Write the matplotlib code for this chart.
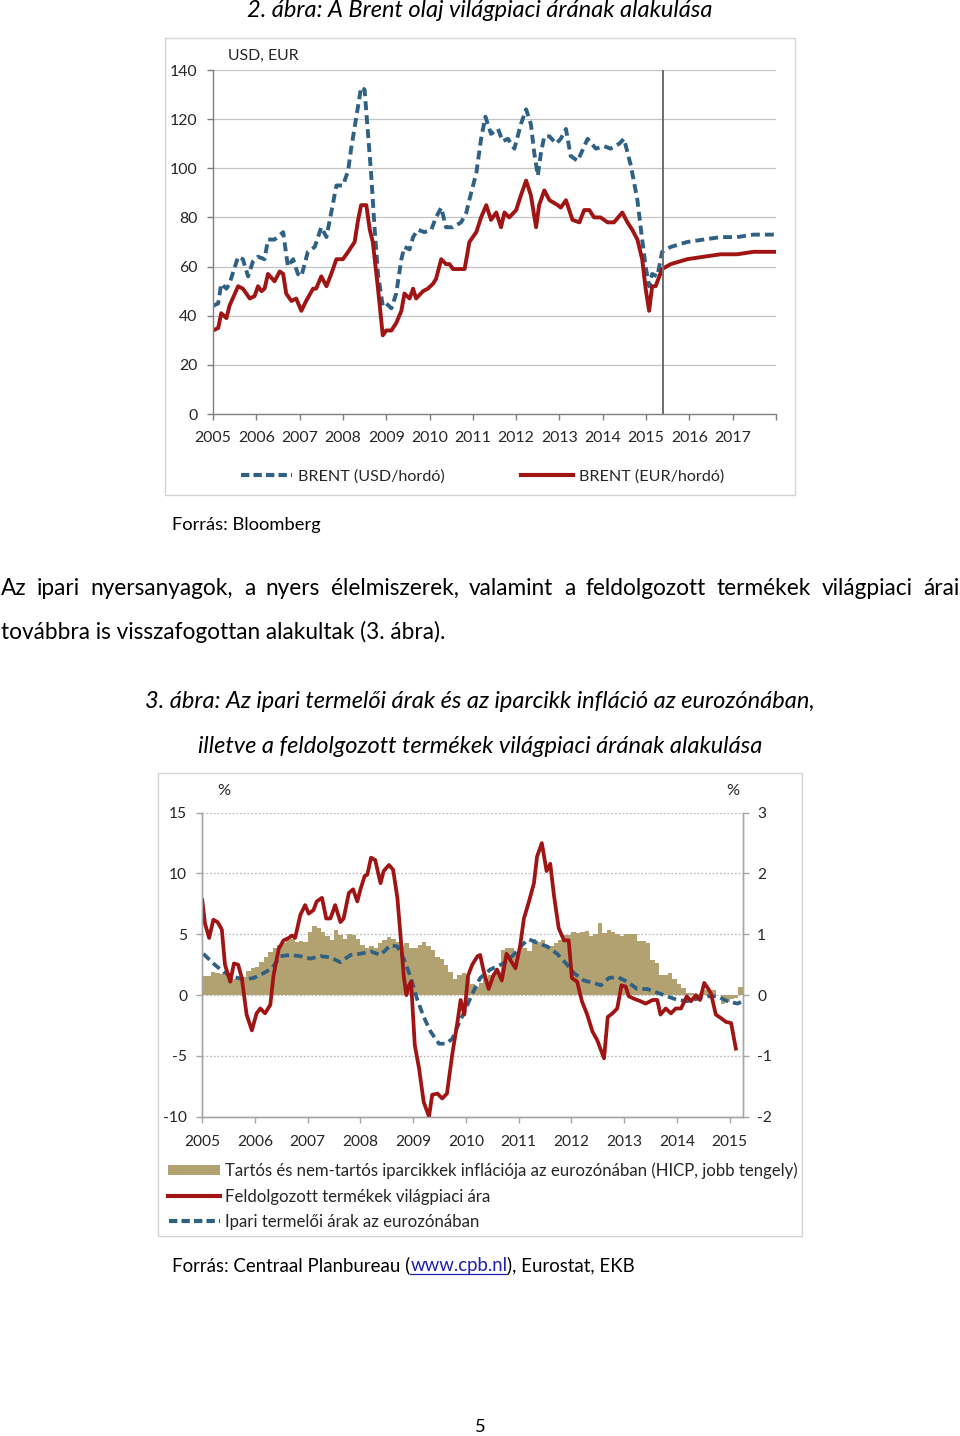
import matplotlib
matplotlib.use("Agg")
import matplotlib.pyplot as plt
import numpy as np
from matplotlib.lines import Line2D
from matplotlib.patches import Rectangle

# ---------------------------------------------------------------------------
# Data
# ---------------------------------------------------------------------------

# 2. ábra: Brent, USD/hordó (decimal year, value)
usd_year = [2005.00, 2005.12, 2005.19, 2005.31, 2005.38, 2005.58, 2005.69, 2005.81,
            2005.92, 2006.04, 2006.19, 2006.27, 2006.42, 2006.62, 2006.73, 2006.85,
            2006.96, 2007.04, 2007.19, 2007.35, 2007.50, 2007.62, 2007.73, 2007.85,
            2008.00, 2008.12, 2008.19, 2008.31, 2008.42, 2008.50, 2008.58, 2008.65,
            2008.73, 2008.81, 2008.92, 2009.00, 2009.12, 2009.23, 2009.35, 2009.42,
            2009.54, 2009.62, 2009.73, 2009.88, 2010.04, 2010.15, 2010.27, 2010.38,
            2010.54, 2010.73, 2010.85, 2010.96, 2011.08, 2011.19, 2011.29, 2011.42,
            2011.58, 2011.69, 2011.81, 2011.96, 2012.11, 2012.23, 2012.34, 2012.42,
            2012.50, 2012.57, 2012.65, 2012.77, 2012.92, 2013.03, 2013.15, 2013.26,
            2013.42, 2013.65, 2013.84, 2014.03, 2014.18, 2014.38, 2014.49, 2014.65,
            2014.80, 2014.91, 2014.99, 2015.07, 2015.14, 2015.26, 2015.37, 2015.57,
            2015.95, 2016.33, 2016.72, 2017.10, 2017.48, 2018.00]
usd_price = [44, 45, 53, 51, 53, 64, 63, 56,
             62, 64, 63, 71, 71, 74, 60, 63,
             57, 56, 66, 68, 76, 72, 82, 93,
             93, 99, 108, 121, 133, 132, 114, 98,
             76, 57, 44, 45, 43, 49, 63, 68,
             67, 72, 75, 74, 75, 80, 84, 76,
             76, 78, 82, 90, 98, 112, 121, 114,
             116, 111, 112, 108, 118, 124, 118, 106,
             97, 106, 113, 113, 110, 112, 116, 105,
             103, 112, 108, 109, 108, 110, 112, 101,
             87, 71, 60, 52, 57, 56, 66, 68,
             70, 71, 72, 72, 73, 73]

# 2. ábra: Brent, EUR/hordó
eur_year = [2005.00, 2005.12, 2005.19, 2005.31, 2005.38, 2005.58, 2005.69, 2005.85,
            2005.96, 2006.04, 2006.12, 2006.19, 2006.27, 2006.42, 2006.54, 2006.62,
            2006.69, 2006.81, 2006.92, 2007.04, 2007.15, 2007.31, 2007.38, 2007.50,
            2007.62, 2007.73, 2007.85, 2008.00, 2008.12, 2008.27, 2008.35, 2008.42,
            2008.54, 2008.62, 2008.69, 2008.81, 2008.92, 2009.00, 2009.12, 2009.23,
            2009.35, 2009.42, 2009.54, 2009.62, 2009.69, 2009.85, 2009.96, 2010.08,
            2010.15, 2010.27, 2010.38, 2010.46, 2010.54, 2010.65, 2010.81, 2010.92,
            2011.08, 2011.19, 2011.31, 2011.42, 2011.54, 2011.65, 2011.73, 2011.84,
            2012.00, 2012.11, 2012.23, 2012.34, 2012.46, 2012.53, 2012.65, 2012.77,
            2012.96, 2013.03, 2013.15, 2013.30, 2013.46, 2013.57, 2013.69, 2013.80,
            2013.95, 2014.11, 2014.26, 2014.45, 2014.57, 2014.68, 2014.80, 2014.91,
            2014.99, 2015.07, 2015.14, 2015.22, 2015.37, 2015.57, 2015.95, 2016.33,
            2016.72, 2017.10, 2017.48, 2018.00]
eur_price = [34, 35, 41, 39, 44, 52, 51, 47,
             48, 52, 50, 51, 57, 54, 58, 57,
             49, 46, 47, 42, 46, 51, 51, 56,
             52, 57, 63, 63, 66, 70, 79, 85,
             85, 75, 70, 51, 32, 34, 34, 37,
             42, 49, 47, 51, 47, 50, 51, 53,
             55, 63, 61, 61, 59, 59, 59, 70,
             74, 80, 85, 79, 82, 76, 82, 80,
             83, 89, 95, 89, 76, 85, 91, 87,
             85, 84, 87, 79, 78, 83, 83, 80,
             80, 78, 78, 82, 78, 75, 71, 63,
             51, 42, 52, 52, 59, 61, 63, 64,
             65, 65, 66, 66]

forecast_start = 2015.39
brent_years = list(range(2005, 2018))

# 3. ábra: HICP iparcikk infláció, havi, 2005 jan - 2015 márc (jobb tengely, %)
hicp = [0.31, 0.31, 0.38, 0.36, 0.34, 0.33, 0.30, 0.27, 0.27, 0.30, 0.40, 0.44,
        0.47, 0.55, 0.62, 0.71, 0.77, 0.82, 0.86, 0.91, 0.93, 0.88, 0.89, 0.88,
        1.04, 1.13, 1.10, 1.04, 0.98, 0.91, 1.07, 0.99, 0.93, 1.00, 0.99, 0.93,
        0.82, 0.77, 0.81, 0.77, 0.85, 0.91, 0.95, 0.93, 0.88, 0.80, 0.85, 0.78,
        0.78, 0.82, 0.88, 0.81, 0.74, 0.63, 0.60, 0.50, 0.38, 0.27, 0.33, 0.36,
        0.30, 0.19, 0.14, 0.20, 0.28, 0.33, 0.36, 0.38, 0.74, 0.77, 0.77, 0.69,
        0.80, 0.77, 0.73, 0.93, 0.88, 0.91, 0.82, 0.80, 0.85, 0.91, 0.99, 0.99,
        1.04, 1.02, 1.04, 1.06, 0.98, 1.00, 1.18, 1.02, 1.07, 1.04, 1.00, 0.98,
        1.00, 1.00, 1.00, 0.89, 0.89, 0.85, 0.58, 0.52, 0.33, 0.33, 0.36, 0.27,
        0.19, 0.11, 0.04, 0.03, 0.01, 0.04, 0.08, 0.08, 0.08, 0.00, -0.15, -0.11,
        -0.07, -0.05, 0.14]
hicp_start = 2005

# 3. ábra: feldolgozott termékek világpiaci ára (bal tengely, %)
proc_year = [2005.00, 2005.05, 2005.13, 2005.21, 2005.29, 2005.37, 2005.43, 2005.53,
             2005.60, 2005.68, 2005.75, 2005.84, 2005.94, 2006.03, 2006.10, 2006.19,
             2006.29, 2006.35, 2006.45, 2006.54, 2006.64, 2006.70, 2006.76, 2006.86,
             2006.95, 2007.02, 2007.11, 2007.17, 2007.27, 2007.35, 2007.43, 2007.52,
             2007.62, 2007.68, 2007.78, 2007.86, 2007.94, 2008.00, 2008.08, 2008.13,
             2008.20, 2008.28, 2008.38, 2008.44, 2008.54, 2008.62, 2008.70, 2008.76,
             2008.82, 2008.87, 2008.92, 2008.96, 2009.03, 2009.11, 2009.20, 2009.30,
             2009.36, 2009.46, 2009.55, 2009.64, 2009.74, 2009.84, 2009.90, 2009.97,
             2010.04, 2010.12, 2010.22, 2010.27, 2010.33, 2010.43, 2010.52, 2010.59,
             2010.68, 2010.77, 2010.84, 2010.94, 2011.03, 2011.10, 2011.19, 2011.29,
             2011.35, 2011.44, 2011.53, 2011.60, 2011.67, 2011.76, 2011.86, 2011.95,
             2012.01, 2012.11, 2012.20, 2012.30, 2012.40, 2012.49, 2012.62, 2012.69,
             2012.78, 2012.87, 2012.95, 2013.03, 2013.09, 2013.19, 2013.31, 2013.41,
             2013.54, 2013.63, 2013.69, 2013.79, 2013.89, 2013.98, 2014.08, 2014.19,
             2014.27, 2014.36, 2014.44, 2014.52, 2014.60, 2014.65, 2014.74, 2014.84,
             2014.93, 2015.03, 2015.12]
proc_val = [7.8, 5.9, 4.7, 6.2, 6.0, 5.4, 2.5, 1.1,
            2.6, 2.5, 1.4, -1.6, -2.9, -1.5, -1.1, -1.5,
            -0.8, 1.6, 3.8, 4.5, 4.7, 4.9, 4.7, 6.6,
            7.4, 6.7, 7.0, 7.7, 8.0, 6.3, 6.3, 7.4,
            6.0, 6.3, 8.4, 8.7, 7.7, 8.7, 9.8, 9.9,
            11.3, 11.1, 9.2, 10.2, 10.7, 10.3, 8.0, 4.9,
            1.6, 0.0, 0.8, 1.1, -4.1, -6.0, -8.8, -10.0,
            -8.2, -8.1, -8.5, -8.1, -4.9, -2.2, -0.4, -1.6,
            1.6, 2.5, 3.2, 3.3, 2.1, 0.5, 1.6, 2.1,
            1.2, 3.4, 2.9, 2.2, 4.1, 6.3, 7.6, 9.2,
            11.4, 12.5, 10.2, 10.8, 8.2, 5.5, 4.5, 4.5,
            1.4, 1.1, -0.5, -1.6, -3.0, -3.7, -5.2, -1.8,
            -1.5, -1.1, 0.8, 0.7, -0.1, -0.3, -0.5, -0.7,
            -0.4, -0.4, -1.6, -1.1, -1.5, -1.1, -1.1, -0.1,
            -0.5, 0.0, -0.4, 1.0, 0.5, 0.1, -1.6, -1.9,
            -2.2, -2.3, -4.4]

# 3. ábra: ipari termelői árak az eurozónában (bal tengely, %)
ppi_year = [2005.02, 2005.21, 2005.40, 2005.59, 2005.78, 2005.97, 2006.16, 2006.32,
            2006.48, 2006.67, 2006.86, 2007.05, 2007.24, 2007.43, 2007.62, 2007.81,
            2008.00, 2008.19, 2008.38, 2008.57, 2008.70, 2008.82, 2008.95, 2009.08,
            2009.20, 2009.33, 2009.49, 2009.62, 2009.74, 2009.87, 2010.00, 2010.12,
            2010.27, 2010.46, 2010.71, 2010.90, 2011.06, 2011.19, 2011.35, 2011.54,
            2011.73, 2011.92, 2012.05, 2012.24, 2012.43, 2012.56, 2012.71, 2012.87,
            2013.06, 2013.25, 2013.44, 2013.63, 2013.82, 2014.01, 2014.20, 2014.39,
            2014.58, 2014.77, 2014.96, 2015.15, 2015.25]
ppi_val = [3.4, 2.6, 1.9, 1.5, 1.3, 1.4, 1.8, 2.2,
           3.2, 3.3, 3.2, 3.0, 3.2, 3.1, 2.7, 3.3,
           3.4, 3.6, 3.3, 4.1, 4.0, 3.0, 1.5, -0.4,
           -1.8, -3.0, -4.0, -4.0, -3.6, -2.3, -1.1, 0.1,
           1.4, 2.1, 2.6, 3.3, 4.1, 4.6, 4.3, 4.0,
           3.4, 2.5, 1.8, 1.2, 1.0, 0.8, 1.4, 1.5,
           1.1, 0.5, 0.5, 0.2, -0.1, -0.4, -0.5, -0.3,
           -0.1, -0.1, -0.5, -0.7, -0.5]

cpi_years = list(range(2005, 2016))
left_ticks = [15, 10, 5, 0, -5, -10]
right_ticks = [3, 2, 1, 0, -1, -2]

BLUE = "#2f6185"
RED = "#a01414"
TAN = "#b2a171"
GRID = "#c4c4c4"
TXT = "#262626"

# ---------------------------------------------------------------------------
# Page setup
# ---------------------------------------------------------------------------

W, H = 960, 1436
fig = plt.figure(figsize=(W / 100, H / 100), dpi=100)
plt.rcParams["font.family"] = ["Lato", "DejaVu Sans"]
renderer = fig.canvas.get_renderer()


def fx(px):
    return px / W


def fy(py):
    return 1 - py / H


def text_w(s, size, **kw):
    t = fig.text(0, 0, s, fontsize=size, **kw)
    w = t.get_window_extent(renderer).width
    t.remove()
    return w


def size_for(s, width, **kw):
    # font size that makes `s` about `width` pixels wide
    return 10 * width / text_w(s, 10, **kw)


def put(x, y, s, size, color="black", **kw):
    return fig.text(fx(x), fy(y), s, fontsize=size, va="baseline", color=color, **kw)


# ---------------------------------------------------------------------------
# Chart 1: Brent
# ---------------------------------------------------------------------------

title1 = "2. ábra: A Brent olaj világpiaci árának alakulása"
ts = size_for(title1, 466, style="italic")
put(480, 17, title1, ts, style="italic", ha="center")

fig.add_artist(Rectangle((fx(165), fy(495)), (795 - 165) / W, (495 - 38) / H,
                         transform=fig.transFigure, fill=False,
                         edgecolor="#d4d4d4", lw=1))

ax1 = fig.add_axes([fx(213), fy(414), (776 - 213) / W, (414 - 70) / H])
ax1.plot(usd_year, usd_price, color=BLUE, lw=2.8, dashes=(2.3, 1.3))
ax1.plot(eur_year, eur_price, color=RED, lw=2.8, solid_joinstyle="round")
ax1.axvline(forecast_start, color="#6e6e6e", lw=1.4)
ax1.set_xlim(2005, 2018)
ax1.set_ylim(0, 140)
ax1.set_yticks(range(0, 141, 20))
ax1.set_xticks(list(brent_years) + [2018])
ax1.set_xticklabels([str(y) for y in brent_years] + [""])
for y in range(20, 141, 20):
    ax1.axhline(y, color=GRID, lw=0.9, zorder=0)
for s in ("top", "right"):
    ax1.spines[s].set_visible(False)
for s in ("left", "bottom"):
    ax1.spines[s].set_color("#7f7f7f")
    ax1.spines[s].set_linewidth(1.0)
tick_fs = size_for("2005", 37)
ax1.tick_params(axis="both", colors="#7f7f7f", labelcolor=TXT, labelsize=tick_fs,
                length=4.5, width=1)
ax1.tick_params(axis="y", pad=6.5)
ax1.tick_params(axis="x", pad=8)

lab_fs = size_for("USD, EUR", 70)
put(228, 60, "USD, EUR", lab_fs, color=TXT)

leg_fs = size_for("BRENT (USD/hordó)", 147)
fig.add_artist(Line2D([fx(241), fx(292)], [fy(475)] * 2, color=BLUE, lw=3,
                      dashes=(2.0, 1.0)))
put(298, 481, "BRENT (USD/hordó)", leg_fs, color=TXT)
fig.add_artist(Line2D([fx(521), fx(573)], [fy(475)] * 2, color=RED, lw=3))
put(579, 481, "BRENT (EUR/hordó)", leg_fs, color=TXT)

src_fs = size_for("Forrás: Bloomberg", 150)
put(172, 530, "Forrás: Bloomberg", src_fs)

# ---------------------------------------------------------------------------
# Paragraph (justified first line)
# ---------------------------------------------------------------------------

line2 = "továbbra is visszafogottan alakultak (3. ábra)."
body_fs = size_for(line2, 444)
line1 = "Az ipari nyersanyagok, a nyers élelmiszerek, valamint a feldolgozott termékek világpiaci árai"
words = line1.split()
widths = [text_w(w, body_fs) for w in words]
gap = (959 - 1 - sum(widths)) / (len(words) - 1)
x = 1
for w, wd in zip(words, widths):
    put(x, 595, w, body_fs)
    x += wd + gap
put(1, 639, line2, body_fs)

# ---------------------------------------------------------------------------
# Chart 2
# ---------------------------------------------------------------------------

t3a = "3. ábra: Az ipari termelői árak és az iparcikk infláció az eurozónában,"
t3b = "illetve a feldolgozott termékek világpiaci árának alakulása"
t3_fs = size_for(t3a, 670, style="italic")
put(480, 708, t3a, t3_fs, style="italic", ha="center")
put(480, 753, t3b, t3_fs, style="italic", ha="center")

fig.add_artist(Rectangle((fx(158), fy(1236)), (802 - 158) / W, (1236 - 773) / H,
                         transform=fig.transFigure, fill=False,
                         edgecolor="#d4d4d4", lw=1))

axL = fig.add_axes([fx(202.3), fy(1116.7), (742.7 - 202.3) / W, (1116.7 - 812.7) / H])
axR = axL.twinx()
axL.set_zorder(axR.get_zorder() + 1)
axL.patch.set_visible(False)

months = hicp_start + np.arange(len(hicp)) / 12
axR.bar(months, hicp, width=1 / 12, align="edge", color=TAN, lw=0, zorder=2)
axR.set_ylim(-2, 3)
axR.set_yticks(right_ticks)
axR.set_yticklabels([str(v) for v in right_ticks])
axR.yaxis.grid(True, color="#bdbdbd", lw=0.9, ls=(0, (1.5, 1.5)), zorder=0)
axR.set_axisbelow(True)

axL.plot(ppi_year, ppi_val, color=BLUE, lw=2.7, dashes=(2.3, 1.3))
axL.plot(proc_year, proc_val, color=RED, lw=2.7, solid_joinstyle="round")
axL.set_ylim(-10, 15)
axL.set_yticks(left_ticks)
axL.set_yticklabels([str(v) for v in left_ticks])
axL.set_xlim(2005, 2015.25)
axL.set_xticks(cpi_years)
axL.set_xticklabels([str(y) for y in cpi_years])

for a in (axL, axR):
    a.spines["top"].set_visible(False)
    for s in ("left", "right", "bottom"):
        a.spines[s].set_color("#a6a6a6")
        a.spines[s].set_linewidth(1.0)
tick_fs2 = size_for("2005", 36)
axL.tick_params(axis="both", colors="#a6a6a6", labelcolor=TXT, labelsize=tick_fs2,
                length=4.5, width=1)
axL.tick_params(axis="y", pad=6.5)
axL.tick_params(axis="x", pad=9)
axR.tick_params(axis="y", colors="#a6a6a6", labelcolor=TXT, labelsize=tick_fs2,
                length=4.5, width=1, pad=6)

pct_fs = size_for("%", 13)
put(224, 795, "%", pct_fs, color=TXT, ha="center")
put(733, 795, "%", pct_fs, color=TXT, ha="center")

leg_items = [
    "Tartós és nem-tartós iparcikkek inflációja az eurozónában (HICP, jobb tengely)",
    "Feldolgozott termékek világpiaci ára",
    "Ipari termelői árak az eurozónában",
]
leg2_fs = size_for(leg_items[0], 573)
fig.add_artist(Rectangle((fx(168), fy(1175)), 52 / W, 10 / H,
                         transform=fig.transFigure, color=TAN, lw=0))
put(225, 1176, leg_items[0], leg2_fs, color=TXT)
fig.add_artist(Line2D([fx(168), fx(220)], [fy(1196)] * 2, color=RED, lw=3))
put(225, 1202, leg_items[1], leg2_fs, color=TXT)
fig.add_artist(Line2D([fx(169), fx(220)], [fy(1221)] * 2, color=BLUE, lw=3,
                      dashes=(2.0, 1.0)))
put(225, 1227, leg_items[2], leg2_fs, color=TXT)

# source line with the blue underlined link
parts = ["Forrás: Centraal Planbureau (", "www.cpb.nl", "), Eurostat, EKB"]
src2_fs = size_for("".join(parts), 463)
x = 172
for i, p in enumerate(parts):
    col = "#1f1fb4" if i == 1 else "black"
    put(x, 1271, p, src2_fs, color=col)
    wd = text_w(p, src2_fs)
    if i == 1:
        fig.add_artist(Line2D([fx(x), fx(x + wd)], [fy(1274)] * 2, color=col, lw=0.9))
    x += wd

put(480, 1432, "5", src_fs, ha="center")

fig.savefig("out.png", dpi=100)
